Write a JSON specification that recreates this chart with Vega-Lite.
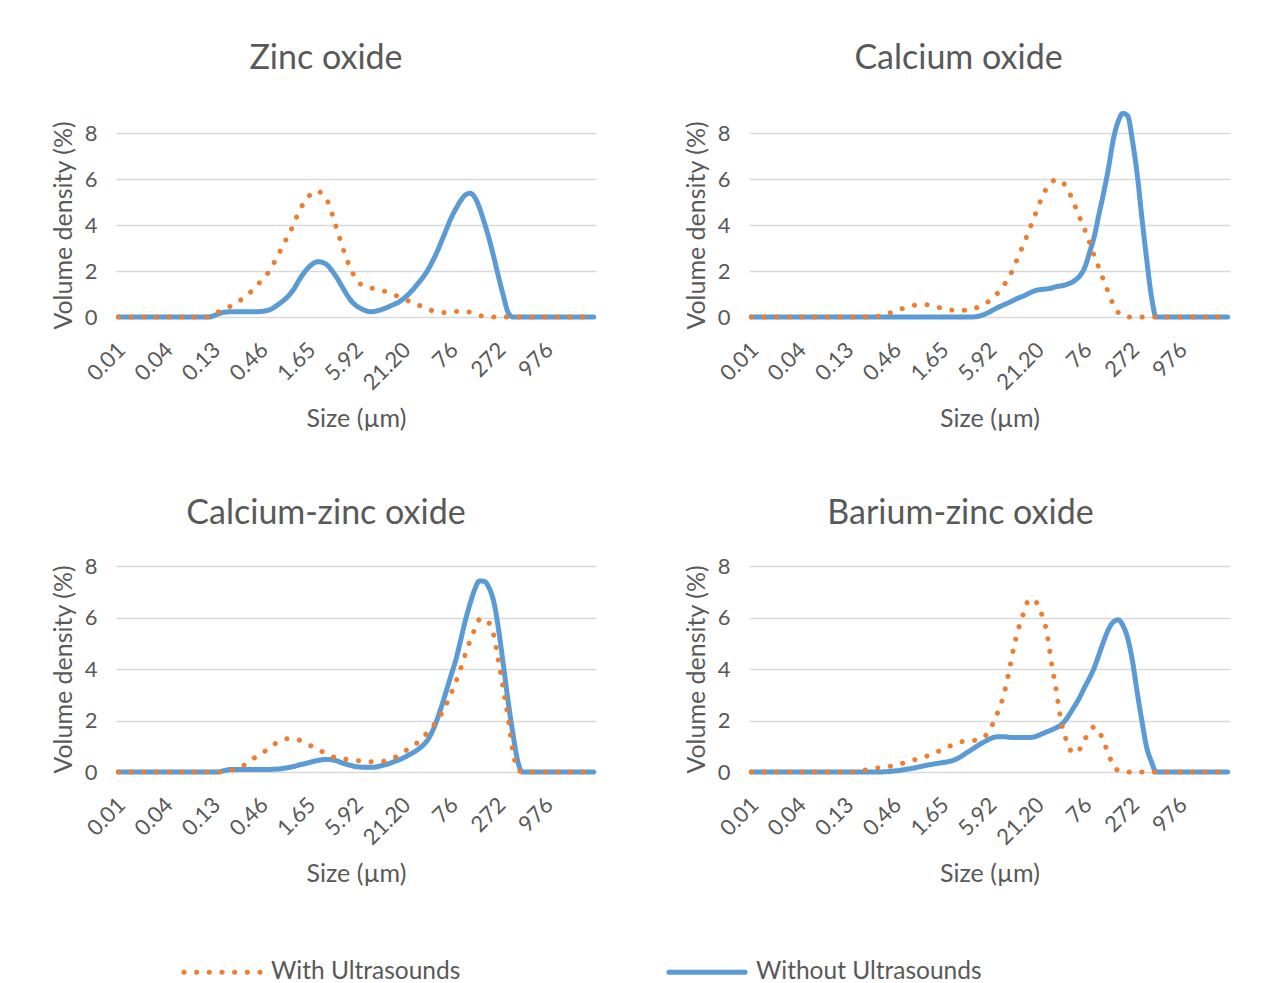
{
"$schema":"https://vega.github.io/schema/vega-lite/v6.json",
"background":"white",
"padding":{"left":51,"top":41,"right":10,"bottom":10},
"config":{
 "font":"Lato",
 "view":{"stroke":null},
 "axis":{"labelColor":"#595959","titleColor":"#595959","labelFont":"Lato","titleFont":"Lato","titleFontWeight":"normal","labelFontSize":22,"titleFontSize":25,"domain":false,"ticks":false,"tickSize":0,"gridColor":"#D9D9D9","gridWidth":1.5},
 "axisX":{"labelAngle":-45,"labelAlign":"right","labelBaseline":"top","labelOffset":-4,"labelPadding":22,"labelOverlap":false,"labelFlush":false,"grid":false,"titlePadding":13},
 "axisY":{"labelPadding":19,"titlePadding":8},
 "title":{"fontSize":34,"fontWeight":"normal","color":"#595959","font":"Lato","baseline":"alphabetic"},
 "legend":{"orient":"none","legendX":65,"legendY":798,"direction":"horizontal","labelFont":"Lato","labelFontSize":24.5,"labelColor":"#595959","labelLimit":400,"symbolType":"stroke","symbolSize":5800,"symbolStrokeWidth":5,"columnPadding":197,"labelOffset":8}
},
"datasets":{
"zinc":[
{"size":0.01,"with":0,"without":0},{"size":0.0114,"with":0,"without":0},{"size":0.0129,"with":0,"without":0},{"size":0.0147,"with":0,"without":0},{"size":0.0167,"with":0,"without":0},{"size":0.0189,"with":0,"without":0},{"size":0.0215,"with":0,"without":0},{"size":0.0244,"with":0,"without":0},{"size":0.0278,"with":0,"without":0},{"size":0.0315,"with":0,"without":0},
{"size":0.0358,"with":0,"without":0},{"size":0.0407,"with":0,"without":0},{"size":0.0463,"with":0,"without":0},{"size":0.0526,"with":0,"without":0},{"size":0.0597,"with":0,"without":0},{"size":0.0679,"with":0,"without":0},{"size":0.0771,"with":0,"without":0},{"size":0.0876,"with":0,"without":0},{"size":0.0995,"with":0,"without":0},{"size":0.113,"with":0,"without":0},
{"size":0.128,"with":0.1,"without":0.05},{"size":0.146,"with":0.22,"without":0.13},{"size":0.166,"with":0.33,"without":0.2},{"size":0.188,"with":0.42,"without":0.22},{"size":0.214,"with":0.5,"without":0.23},{"size":0.243,"with":0.63,"without":0.23},{"size":0.276,"with":0.78,"without":0.23},{"size":0.314,"with":0.95,"without":0.23},{"size":0.357,"with":1.12,"without":0.23},{"size":0.405,"with":1.32,"without":0.23},
{"size":0.46,"with":1.56,"without":0.24},{"size":0.523,"with":1.8,"without":0.27},{"size":0.594,"with":2.05,"without":0.33},{"size":0.675,"with":2.46,"without":0.45},{"size":0.767,"with":2.85,"without":0.6},{"size":0.872,"with":3.25,"without":0.76},{"size":0.991,"with":3.65,"without":0.97},{"size":1.13,"with":4.1,"without":1.25},{"size":1.28,"with":4.6,"without":1.6},{"size":1.45,"with":4.94,"without":1.9},
{"size":1.65,"with":5.22,"without":2.15},{"size":1.88,"with":5.45,"without":2.33},{"size":2.13,"with":5.48,"without":2.4},{"size":2.42,"with":5.3,"without":2.37},{"size":2.75,"with":5.05,"without":2.25},{"size":3.12,"with":4.48,"without":2.0},{"size":3.55,"with":3.8,"without":1.7},{"size":4.03,"with":3.15,"without":1.35},{"size":4.58,"with":2.55,"without":1.0},{"size":5.21,"with":2.05,"without":0.7},
{"size":5.92,"with":1.65,"without":0.5},{"size":6.72,"with":1.42,"without":0.37},{"size":7.64,"with":1.33,"without":0.28},{"size":8.68,"with":1.27,"without":0.23},{"size":9.86,"with":1.23,"without":0.25},{"size":11.2,"with":1.18,"without":0.3},{"size":12.7,"with":1.12,"without":0.37},{"size":14.5,"with":1.05,"without":0.46},{"size":16.4,"with":0.97,"without":0.55},{"size":18.7,"with":0.88,"without":0.65},
{"size":21.2,"with":0.8,"without":0.8},{"size":24.1,"with":0.7,"without":0.98},{"size":27.4,"with":0.6,"without":1.2},{"size":31.1,"with":0.52,"without":1.45},{"size":35.3,"with":0.45,"without":1.7},{"size":40.1,"with":0.37,"without":2.0},{"size":45.6,"with":0.28,"without":2.38},{"size":51.8,"with":0.22,"without":2.8},{"size":58.9,"with":0.2,"without":3.3},{"size":66.9,"with":0.2,"without":3.8},
{"size":76,"with":0.22,"without":4.3},{"size":86.4,"with":0.24,"without":4.7},{"size":98.1,"with":0.25,"without":5.05},{"size":111,"with":0.24,"without":5.3},{"size":127,"with":0.21,"without":5.38},{"size":144,"with":0.15,"without":5.2},{"size":163,"with":0.07,"without":4.75},{"size":186,"with":0.02,"without":4.1},{"size":211,"with":0,"without":3.4},{"size":240,"with":0,"without":2.6},
{"size":272,"with":0,"without":1.75},{"size":310,"with":0,"without":0.92},{"size":352,"with":0,"without":0.2},{"size":400,"with":0,"without":0},{"size":454,"with":0,"without":0},{"size":516,"with":0,"without":0},{"size":586,"with":0,"without":0},{"size":666,"with":0,"without":0},{"size":756,"with":0,"without":0},{"size":859,"with":0,"without":0},
{"size":976,"with":0,"without":0},{"size":1110,"with":0,"without":0},{"size":1260,"with":0,"without":0},{"size":1430,"with":0,"without":0},{"size":1630,"with":0,"without":0},{"size":1850,"with":0,"without":0},{"size":2100,"with":0,"without":0},{"size":2390,"with":0,"without":0},{"size":2710,"with":0,"without":0},{"size":3080,"with":0,"without":0},{"size":3500,"with":0,"without":0}
],
"calcium":[
{"size":0.01,"with":0,"without":0},{"size":0.0114,"with":0,"without":0},{"size":0.0129,"with":0,"without":0},{"size":0.0147,"with":0,"without":0},{"size":0.0167,"with":0,"without":0},{"size":0.0189,"with":0,"without":0},{"size":0.0215,"with":0,"without":0},{"size":0.0244,"with":0,"without":0},{"size":0.0278,"with":0,"without":0},{"size":0.0315,"with":0,"without":0},
{"size":0.0358,"with":0,"without":0},{"size":0.0407,"with":0,"without":0},{"size":0.0463,"with":0,"without":0},{"size":0.0526,"with":0,"without":0},{"size":0.0597,"with":0,"without":0},{"size":0.0679,"with":0,"without":0},{"size":0.0771,"with":0,"without":0},{"size":0.0876,"with":0,"without":0},{"size":0.0995,"with":0,"without":0},{"size":0.113,"with":0,"without":0},
{"size":0.128,"with":0,"without":0},{"size":0.146,"with":0,"without":0},{"size":0.166,"with":0,"without":0},{"size":0.188,"with":0,"without":0},{"size":0.214,"with":0,"without":0},{"size":0.243,"with":0.01,"without":0},{"size":0.276,"with":0.02,"without":0},{"size":0.314,"with":0.05,"without":0},{"size":0.357,"with":0.1,"without":0},{"size":0.405,"with":0.17,"without":0},
{"size":0.46,"with":0.25,"without":0},{"size":0.523,"with":0.32,"without":0},{"size":0.594,"with":0.38,"without":0},{"size":0.675,"with":0.45,"without":0},{"size":0.767,"with":0.5,"without":0},{"size":0.872,"with":0.53,"without":0},{"size":0.991,"with":0.54,"without":0},{"size":1.13,"with":0.53,"without":0},{"size":1.28,"with":0.5,"without":0},{"size":1.45,"with":0.44,"without":0},
{"size":1.65,"with":0.38,"without":0},{"size":1.88,"with":0.33,"without":0},{"size":2.13,"with":0.3,"without":0},{"size":2.42,"with":0.29,"without":0},{"size":2.75,"with":0.29,"without":0},{"size":3.12,"with":0.29,"without":0},{"size":3.55,"with":0.32,"without":0},{"size":4.03,"with":0.38,"without":0.01},{"size":4.58,"with":0.47,"without":0.05},{"size":5.21,"with":0.58,"without":0.12},
{"size":5.92,"with":0.7,"without":0.22},{"size":6.72,"with":0.88,"without":0.33},{"size":7.64,"with":1.11,"without":0.44},{"size":8.68,"with":1.38,"without":0.53},{"size":9.86,"with":1.7,"without":0.62},{"size":11.2,"with":2.1,"without":0.72},{"size":12.7,"with":2.6,"without":0.82},{"size":14.5,"with":3.1,"without":0.9},{"size":16.4,"with":3.6,"without":1.0},{"size":18.7,"with":4.15,"without":1.1},
{"size":21.2,"with":4.67,"without":1.17},{"size":24.1,"with":5.2,"without":1.2},{"size":27.4,"with":5.6,"without":1.22},{"size":31.1,"with":5.85,"without":1.26},{"size":35.3,"with":5.98,"without":1.32},{"size":40.1,"with":5.9,"without":1.35},{"size":45.6,"with":5.7,"without":1.4},{"size":51.8,"with":5.3,"without":1.48},{"size":58.9,"with":4.8,"without":1.6},{"size":66.9,"with":4.3,"without":1.8},
{"size":76,"with":3.8,"without":2.15},{"size":86.4,"with":3.25,"without":2.8},{"size":98.1,"with":2.65,"without":3.5},{"size":111,"with":2.15,"without":4.45},{"size":127,"with":1.55,"without":5.45},{"size":144,"with":1.05,"without":6.5},{"size":163,"with":0.55,"without":7.7},{"size":186,"with":0.2,"without":8.5},{"size":211,"with":0.05,"without":8.85},{"size":240,"with":0,"without":8.75},
{"size":272,"with":0,"without":7.7},{"size":310,"with":0,"without":6.2},{"size":352,"with":0,"without":4.3},{"size":400,"with":0,"without":2.5},{"size":454,"with":0,"without":0.9},{"size":516,"with":0,"without":0},{"size":586,"with":0,"without":0},{"size":666,"with":0,"without":0},{"size":756,"with":0,"without":0},{"size":859,"with":0,"without":0},
{"size":976,"with":0,"without":0},{"size":1110,"with":0,"without":0},{"size":1260,"with":0,"without":0},{"size":1430,"with":0,"without":0},{"size":1630,"with":0,"without":0},{"size":1850,"with":0,"without":0},{"size":2100,"with":0,"without":0},{"size":2390,"with":0,"without":0},{"size":2710,"with":0,"without":0},{"size":3080,"with":0,"without":0},{"size":3500,"with":0,"without":0}
],
"calciumzinc":[
{"size":0.01,"with":0,"without":0},{"size":0.0114,"with":0,"without":0},{"size":0.0129,"with":0,"without":0},{"size":0.0147,"with":0,"without":0},{"size":0.0167,"with":0,"without":0},{"size":0.0189,"with":0,"without":0},{"size":0.0215,"with":0,"without":0},{"size":0.0244,"with":0,"without":0},{"size":0.0278,"with":0,"without":0},{"size":0.0315,"with":0,"without":0},
{"size":0.0358,"with":0,"without":0},{"size":0.0407,"with":0,"without":0},{"size":0.0463,"with":0,"without":0},{"size":0.0526,"with":0,"without":0},{"size":0.0597,"with":0,"without":0},{"size":0.0679,"with":0,"without":0},{"size":0.0771,"with":0,"without":0},{"size":0.0876,"with":0,"without":0},{"size":0.0995,"with":0,"without":0},{"size":0.113,"with":0,"without":0},
{"size":0.128,"with":0,"without":0},{"size":0.146,"with":0,"without":0},{"size":0.166,"with":0.02,"without":0.04},{"size":0.188,"with":0.05,"without":0.08},{"size":0.214,"with":0.08,"without":0.1},{"size":0.243,"with":0.14,"without":0.1},{"size":0.276,"with":0.22,"without":0.1},{"size":0.314,"with":0.32,"without":0.1},{"size":0.357,"with":0.46,"without":0.1},{"size":0.405,"with":0.6,"without":0.1},
{"size":0.46,"with":0.72,"without":0.1},{"size":0.523,"with":0.83,"without":0.1},{"size":0.594,"with":0.97,"without":0.1},{"size":0.675,"with":1.1,"without":0.11},{"size":0.767,"with":1.2,"without":0.12},{"size":0.872,"with":1.27,"without":0.15},{"size":0.991,"with":1.3,"without":0.18},{"size":1.13,"with":1.28,"without":0.22},{"size":1.28,"with":1.24,"without":0.27},{"size":1.45,"with":1.16,"without":0.31},
{"size":1.65,"with":1.06,"without":0.36},{"size":1.88,"with":0.97,"without":0.41},{"size":2.13,"with":0.87,"without":0.45},{"size":2.42,"with":0.78,"without":0.48},{"size":2.75,"with":0.69,"without":0.49},{"size":3.12,"with":0.6,"without":0.47},{"size":3.55,"with":0.55,"without":0.43},{"size":4.03,"with":0.51,"without":0.36},{"size":4.58,"with":0.49,"without":0.3},{"size":5.21,"with":0.47,"without":0.25},
{"size":5.92,"with":0.45,"without":0.21},{"size":6.72,"with":0.43,"without":0.19},{"size":7.64,"with":0.42,"without":0.18},{"size":8.68,"with":0.4,"without":0.18},{"size":9.86,"with":0.4,"without":0.19},{"size":11.2,"with":0.41,"without":0.23},{"size":12.7,"with":0.42,"without":0.28},{"size":14.5,"with":0.47,"without":0.33},{"size":16.4,"with":0.55,"without":0.4},{"size":18.7,"with":0.65,"without":0.47},
{"size":21.2,"with":0.77,"without":0.55},{"size":24.1,"with":0.9,"without":0.65},{"size":27.4,"with":1.03,"without":0.75},{"size":31.1,"with":1.15,"without":0.87},{"size":35.3,"with":1.33,"without":1.02},{"size":40.1,"with":1.52,"without":1.22},{"size":45.6,"with":1.73,"without":1.55},{"size":51.8,"with":1.98,"without":2.0},{"size":58.9,"with":2.27,"without":2.55},{"size":66.9,"with":2.63,"without":3.15},
{"size":76,"with":3.05,"without":3.75},{"size":86.4,"with":3.5,"without":4.35},{"size":98.1,"with":4.0,"without":5.1},{"size":111,"with":4.55,"without":5.85},{"size":127,"with":5.1,"without":6.55},{"size":144,"with":5.55,"without":7.1},{"size":163,"with":5.92,"without":7.42},{"size":186,"with":5.95,"without":7.4},{"size":211,"with":5.78,"without":7.15},{"size":240,"with":5.3,"without":6.6},
{"size":272,"with":4.3,"without":5.55},{"size":310,"with":3.2,"without":4.15},{"size":352,"with":2.1,"without":2.75},{"size":400,"with":0.8,"without":1.5},{"size":454,"with":0.12,"without":0.45},{"size":516,"with":0,"without":0},{"size":586,"with":0,"without":0},{"size":666,"with":0,"without":0},{"size":756,"with":0,"without":0},{"size":859,"with":0,"without":0},
{"size":976,"with":0,"without":0},{"size":1110,"with":0,"without":0},{"size":1260,"with":0,"without":0},{"size":1430,"with":0,"without":0},{"size":1630,"with":0,"without":0},{"size":1850,"with":0,"without":0},{"size":2100,"with":0,"without":0},{"size":2390,"with":0,"without":0},{"size":2710,"with":0,"without":0},{"size":3080,"with":0,"without":0},{"size":3500,"with":0,"without":0}
],
"bariumzinc":[
{"size":0.01,"with":0,"without":0},{"size":0.0114,"with":0,"without":0},{"size":0.0129,"with":0,"without":0},{"size":0.0147,"with":0,"without":0},{"size":0.0167,"with":0,"without":0},{"size":0.0189,"with":0,"without":0},{"size":0.0215,"with":0,"without":0},{"size":0.0244,"with":0,"without":0},{"size":0.0278,"with":0,"without":0},{"size":0.0315,"with":0,"without":0},
{"size":0.0358,"with":0,"without":0},{"size":0.0407,"with":0,"without":0},{"size":0.0463,"with":0,"without":0},{"size":0.0526,"with":0,"without":0},{"size":0.0597,"with":0,"without":0},{"size":0.0679,"with":0,"without":0},{"size":0.0771,"with":0,"without":0},{"size":0.0876,"with":0,"without":0},{"size":0.0995,"with":0,"without":0},{"size":0.113,"with":0,"without":0},
{"size":0.128,"with":0,"without":0},{"size":0.146,"with":0,"without":0},{"size":0.166,"with":0.02,"without":0},{"size":0.188,"with":0.05,"without":0},{"size":0.214,"with":0.08,"without":0},{"size":0.243,"with":0.1,"without":0},{"size":0.276,"with":0.14,"without":0},{"size":0.314,"with":0.17,"without":0},{"size":0.357,"with":0.2,"without":0.01},{"size":0.405,"with":0.22,"without":0.02},
{"size":0.46,"with":0.25,"without":0.04},{"size":0.523,"with":0.3,"without":0.06},{"size":0.594,"with":0.35,"without":0.09},{"size":0.675,"with":0.4,"without":0.12},{"size":0.767,"with":0.46,"without":0.15},{"size":0.872,"with":0.51,"without":0.19},{"size":0.991,"with":0.57,"without":0.23},{"size":1.13,"with":0.63,"without":0.27},{"size":1.28,"with":0.7,"without":0.3},{"size":1.45,"with":0.78,"without":0.33},
{"size":1.65,"with":0.86,"without":0.36},{"size":1.88,"with":0.95,"without":0.39},{"size":2.13,"with":1.03,"without":0.43},{"size":2.42,"with":1.1,"without":0.5},{"size":2.75,"with":1.17,"without":0.6},{"size":3.12,"with":1.21,"without":0.72},{"size":3.55,"with":1.22,"without":0.84},{"size":4.03,"with":1.23,"without":0.96},{"size":4.58,"with":1.28,"without":1.08},{"size":5.21,"with":1.38,"without":1.18},
{"size":5.92,"with":1.62,"without":1.28},{"size":6.72,"with":2.0,"without":1.35},{"size":7.64,"with":2.45,"without":1.37},{"size":8.68,"with":3.0,"without":1.37},{"size":9.86,"with":3.81,"without":1.35},{"size":11.2,"with":4.75,"without":1.34},{"size":12.7,"with":5.5,"without":1.34},{"size":14.5,"with":6.1,"without":1.34},{"size":16.4,"with":6.6,"without":1.34},{"size":18.7,"with":6.72,"without":1.35},
{"size":21.2,"with":6.55,"without":1.4},{"size":24.1,"with":6.1,"without":1.48},{"size":27.4,"with":5.45,"without":1.56},{"size":31.1,"with":4.25,"without":1.63},{"size":35.3,"with":3.2,"without":1.72},{"size":40.1,"with":2.0,"without":1.82},{"size":45.6,"with":1.3,"without":2.02},{"size":51.8,"with":0.85,"without":2.3},{"size":58.9,"with":0.72,"without":2.6},{"size":66.9,"with":0.9,"without":2.92},
{"size":76,"with":1.25,"without":3.3},{"size":86.4,"with":1.6,"without":3.65},{"size":98.1,"with":1.75,"without":4.05},{"size":111,"with":1.6,"without":4.55},{"size":127,"with":1.15,"without":5.1},{"size":144,"with":0.7,"without":5.55},{"size":163,"with":0.25,"without":5.82},{"size":186,"with":0.06,"without":5.91},{"size":211,"with":0.01,"without":5.7},{"size":240,"with":0,"without":5.2},
{"size":272,"with":0,"without":4.35},{"size":310,"with":0,"without":3.1},{"size":352,"with":0,"without":1.98},{"size":400,"with":0,"without":0.95},{"size":454,"with":0,"without":0.4},{"size":516,"with":0,"without":0},{"size":586,"with":0,"without":0},{"size":666,"with":0,"without":0},{"size":756,"with":0,"without":0},{"size":859,"with":0,"without":0},
{"size":976,"with":0,"without":0},{"size":1110,"with":0,"without":0},{"size":1260,"with":0,"without":0},{"size":1430,"with":0,"without":0},{"size":1630,"with":0,"without":0},{"size":1850,"with":0,"without":0},{"size":2100,"with":0,"without":0},{"size":2390,"with":0,"without":0},{"size":2710,"with":0,"without":0},{"size":3080,"with":0,"without":0},{"size":3500,"with":0,"without":0}
]
},
"columns":2,
"spacing":{"row":65,"column":87},
"concat":[
{"title":{"text":"Zinc oxide","dx":-30,"offset":45},"data":{"name":"zinc"},"transform":[{"fold":["without","with"],"as":["series","density"]}],"width":480,"height":184,
 "mark":{"type":"line","strokeWidth":5,"strokeCap":"round","strokeJoin":"round","interpolate":"monotone"},
 "encoding":{
  "x":{"field":"size","type":"quantitative","scale":{"type":"log","domain":[0.00938,3731],"nice":false},"axis":{"values":[0.01,0.0358,0.128,0.46,1.65,5.92,21.2,76,272,976],"labelExpr":"datum.value < 50 ? format(datum.value, '.2f') : format(datum.value, '.0f')","title":"Size (µm)"}},
  "y":{"field":"density","type":"quantitative","scale":{"domain":[0,8],"nice":false},"axis":{"values":[0,2,4,6,8],"title":"Volume density (%)"}},
  "color":{"field":"series","type":"nominal","scale":{"domain":["with","without"],"range":["#ED7D31","#5B9BD5"]},"legend":{"title":null,"labelExpr":"datum.label == 'with' ? 'With Ultrasounds' : 'Without Ultrasounds'","encode":{"symbols":{"update":{"strokeCap":{"value":"round"}}}}}},
  "strokeDash":{"field":"series","type":"nominal","scale":{"domain":["with","without"],"range":[[0.1,12.57],[1,0]]},"legend":{"title":null,"labelExpr":"datum.label == 'with' ? 'With Ultrasounds' : 'Without Ultrasounds'","encode":{"symbols":{"update":{"strokeCap":{"value":"round"}}}}}}
 }},
{"title":{"text":"Calcium oxide","dx":-31,"offset":35},"data":{"name":"calcium"},"transform":[{"fold":["without","with"],"as":["series","density"]}],"width":481,"height":184,
 "mark":{"type":"line","strokeWidth":5,"strokeCap":"round","strokeJoin":"round","interpolate":"monotone"},
 "encoding":{
  "x":{"field":"size","type":"quantitative","scale":{"type":"log","domain":[0.00938,3731],"nice":false},"axis":{"values":[0.01,0.0358,0.128,0.46,1.65,5.92,21.2,76,272,976],"labelExpr":"datum.value < 50 ? format(datum.value, '.2f') : format(datum.value, '.0f')","title":"Size (µm)"}},
  "y":{"field":"density","type":"quantitative","scale":{"domain":[0,8],"nice":false},"axis":{"values":[0,2,4,6,8],"title":"Volume density (%)"}},
  "color":{"field":"series","type":"nominal","scale":{"domain":["with","without"],"range":["#ED7D31","#5B9BD5"]},"legend":{"title":null}},
  "strokeDash":{"field":"series","type":"nominal","scale":{"domain":["with","without"],"range":[[0.1,12.57],[1,0]]},"legend":{"title":null}}
 }},
{"title":{"text":"Calcium-zinc oxide","dx":-30,"offset":24},"data":{"name":"calciumzinc"},"transform":[{"fold":["without","with"],"as":["series","density"]}],"width":480,"height":206,
 "mark":{"type":"line","strokeWidth":5,"strokeCap":"round","strokeJoin":"round","interpolate":"monotone"},
 "encoding":{
  "x":{"field":"size","type":"quantitative","scale":{"type":"log","domain":[0.00938,3731],"nice":false},"axis":{"values":[0.01,0.0358,0.128,0.46,1.65,5.92,21.2,76,272,976],"labelExpr":"datum.value < 50 ? format(datum.value, '.2f') : format(datum.value, '.0f')","title":"Size (µm)"}},
  "y":{"field":"density","type":"quantitative","scale":{"domain":[0,8],"nice":false},"axis":{"values":[0,2,4,6,8],"title":"Volume density (%)"}},
  "color":{"field":"series","type":"nominal","scale":{"domain":["with","without"],"range":["#ED7D31","#5B9BD5"]},"legend":{"title":null}},
  "strokeDash":{"field":"series","type":"nominal","scale":{"domain":["with","without"],"range":[[0.1,12.57],[1,0]]},"legend":{"title":null}}
 }},
{"title":{"text":"Barium-zinc oxide","dx":-29,"offset":24},"data":{"name":"bariumzinc"},"transform":[{"fold":["without","with"],"as":["series","density"]}],"width":481,"height":206,
 "mark":{"type":"line","strokeWidth":5,"strokeCap":"round","strokeJoin":"round","interpolate":"monotone"},
 "encoding":{
  "x":{"field":"size","type":"quantitative","scale":{"type":"log","domain":[0.00938,3731],"nice":false},"axis":{"values":[0.01,0.0358,0.128,0.46,1.65,5.92,21.2,76,272,976],"labelExpr":"datum.value < 50 ? format(datum.value, '.2f') : format(datum.value, '.0f')","title":"Size (µm)"}},
  "y":{"field":"density","type":"quantitative","scale":{"domain":[0,8],"nice":false},"axis":{"values":[0,2,4,6,8],"title":"Volume density (%)"}},
  "color":{"field":"series","type":"nominal","scale":{"domain":["with","without"],"range":["#ED7D31","#5B9BD5"]},"legend":{"title":null}},
  "strokeDash":{"field":"series","type":"nominal","scale":{"domain":["with","without"],"range":[[0.1,12.57],[1,0]]},"legend":{"title":null}}
 }}
]
}
